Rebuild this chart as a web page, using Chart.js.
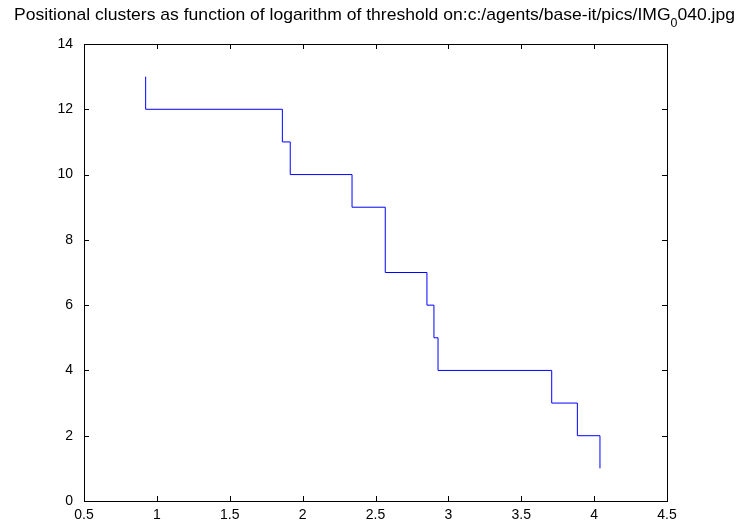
<!DOCTYPE html>
<html>
<head>
<meta charset="utf-8">
<script src="https://cdn.jsdelivr.net/npm/chart.js@4/dist/chart.umd.min.js"></script>
<style>
  html, body { margin: 0; padding: 0; background: #fff; }
  #wrap { width: 736px; height: 527px; position: relative; }
</style>
</head>
<body>
<div id="wrap"><canvas id="c"></canvas></div>
<script>
// stairs plot: cluster count vs log threshold
const xThresh = [0.923, 0.923, 1.861, 1.915, 2.339, 2.567, 2.853, 2.901, 2.929, 3.709, 3.885, 4.040];
const clusters = [13, 12, 11, 10, 9, 7, 6, 5, 4, 3, 2, 1];

const xTicks = [0.5, 1, 1.5, 2, 2.5, 3, 3.5, 4, 4.5];
const yTicks = [0, 2, 4, 6, 8, 10, 12, 14];

const TITLE_MAIN = "Positional clusters as function of logarithm of threshold on:c:/agents/base-it/pics/IMG";
const TITLE_SUB = "0";
const TITLE_END = "040.jpg";

const FONT = "Liberation Sans, Arial, Helvetica, sans-serif";
const INK = "#000000";
const LINE = "#0000ff";
const TICK_LEN = 5;

// MATLAB-style box with inward ticks on all four sides
const boxTicks = {
  id: "boxTicks",
  afterDraw(chart) {
    const { ctx, chartArea: a, scales: { x, y } } = chart;
    ctx.save();
    ctx.strokeStyle = INK;
    ctx.lineWidth = 1;
    ctx.beginPath();
    xTicks.forEach((v) => {
      const px = Math.round(x.getPixelForValue(v)) + 0.5;
      ctx.moveTo(px, a.bottom); ctx.lineTo(px, a.bottom - TICK_LEN);
      ctx.moveTo(px, a.top); ctx.lineTo(px, a.top + TICK_LEN);
    });
    yTicks.forEach((v) => {
      const py = Math.round(y.getPixelForValue(v)) + 0.5;
      ctx.moveTo(a.left, py); ctx.lineTo(a.left + TICK_LEN, py);
      ctx.moveTo(a.right, py); ctx.lineTo(a.right - TICK_LEN, py);
    });
    ctx.stroke();
    ctx.strokeRect(Math.round(a.left) + 0.5, Math.round(a.top) + 0.5,
      Math.round(a.right - a.left), Math.round(a.bottom - a.top));
    ctx.restore();
  },
};

// title with the "_0" rendered as a subscript, squeezed to the original width
const titlePlugin = {
  id: "titleSub",
  afterDraw(chart) {
    const { ctx } = chart;
    ctx.save();
    ctx.fillStyle = INK;
    ctx.textBaseline = "alphabetic";
    const big = "17px " + FONT, small = "12px " + FONT;
    ctx.font = big;
    const w1 = ctx.measureText(TITLE_MAIN).width;
    const w3 = ctx.measureText(TITLE_END).width;
    ctx.font = small;
    const w2 = ctx.measureText(TITLE_SUB).width;
    const total = w1 + w2 + w3;
    const left = 14, right = 735;
    const sx = (right - left) / total;
    ctx.translate(left, 0);
    ctx.scale(sx, 1);
    ctx.font = big;
    ctx.fillText(TITLE_MAIN, 0, 20);
    ctx.font = small;
    ctx.fillText(TITLE_SUB, w1, 27);
    ctx.font = big;
    ctx.fillText(TITLE_END, w1 + w2, 20);
    ctx.restore();
  },
};

new Chart(document.getElementById("c"), {
  type: "line",
  data: {
    datasets: [{
      data: xThresh.map((x, i) => ({ x, y: clusters[i] })),
      borderColor: LINE,
      borderWidth: 1,
      stepped: "before",
      fill: false,
      pointRadius: 0,
      tension: 0,
    }],
  },
  options: {
    responsive: true,
    maintainAspectRatio: false,
    animation: false,
    layout: { padding: { top: 44, right: 69, left: 0, bottom: 0 } },
    scales: {
      x: {
        type: "linear",
        min: 0.5, max: 4.5,
        afterBuildTicks: (s) => { s.ticks = xTicks.map((v) => ({ value: v })); },
        afterFit: (s) => { s.height = 26; },
        grid: { display: false, drawTicks: false },
        border: { display: false },
        ticks: {
          color: INK, padding: 6, maxRotation: 0, autoSkip: false,
          font: { family: FONT, size: 14 },
          callback: (v) => String(v),
        },
      },
      y: {
        type: "linear",
        min: 0, max: 14,
        afterBuildTicks: (s) => { s.ticks = yTicks.map((v) => ({ value: v })); },
        afterFit: (s) => { s.width = 84; },
        grid: { display: false, drawTicks: false },
        border: { display: false },
        ticks: {
          color: INK, padding: 11, autoSkip: false,
          font: { family: FONT, size: 14 },
          callback: (v) => String(v),
        },
      },
    },
    plugins: { legend: { display: false }, tooltip: { enabled: false }, title: { display: false } },
  },
  plugins: [boxTicks, titlePlugin],
});
</script>
</body>
</html>
